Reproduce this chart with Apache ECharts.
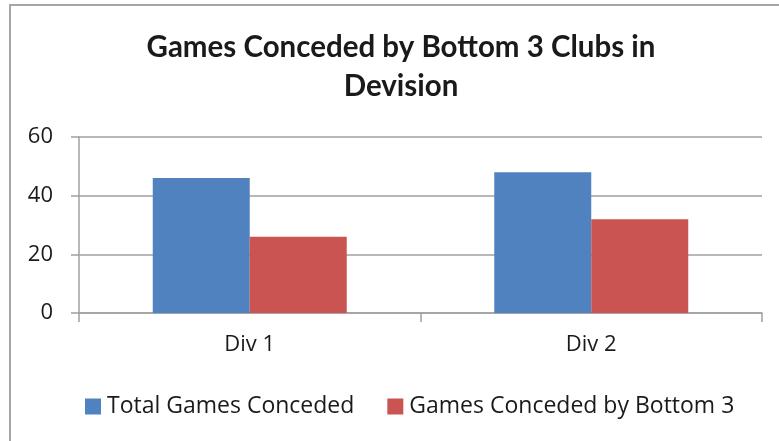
<!DOCTYPE html>
<html>
<head>
<meta charset="utf-8">
<script src="https://cdn.jsdelivr.net/npm/echarts@6/dist/echarts.min.js"></script>
<style>
html,body{margin:0;padding:0;background:#fff;}
#chart{width:779px;height:441px;}
</style>
</head>
<body>
<div id="chart"></div>
<script>
const categories = ['Div 1', 'Div 2'];
const totalConceded = [46, 48];
const bottom3Conceded = [26, 32];
const seriesNames = ['Total Games Conceded', 'Games Conceded by Bottom 3'];
const titleText = 'Games Conceded by Bottom 3 Clubs in\nDevision';

const TFONT = 'Lato';
const FONT = 'Open Sans';
const chart = echarts.init(document.getElementById('chart'), null, {renderer: 'canvas'});
chart.setOption({
  animation: false,
  color: ['#5082C0', '#CA5451'],
  graphic: [{
    type: 'rect',
    shape: {x: 10, y: 5, width: 820, height: 500},
    style: {fill: 'none', stroke: '#A6A6A6', lineWidth: 2},
    silent: true, z: -1
  }],
  title: {
    text: titleText,
    left: 396,
    textAlign: 'center',
    top: 23,
    textStyle: {fontFamily: TFONT, fontWeight: 'bold', fontSize: 29.5, lineHeight: 39, color: '#1a1a1a'}
  },
  legend: {
    left: 80,
    top: 390,
    itemWidth: 16,
    itemHeight: 16,
    itemGap: 33,
    icon: 'rect',
    textStyle: {fontFamily: FONT, fontSize: 23, color: '#1a1a1a', padding: [0, 0, 0, 1]},
    data: seriesNames
  },
  grid: {left: 79, right: 17, top: 137, bottom: 128, containLabel: false},
  xAxis: {
    type: 'category',
    data: categories,
    axisLine: {lineStyle: {color: '#A0A0A0', width: 1.5}},
    axisTick: {show: true, length: 9, interval: 0, lineStyle: {color: '#A0A0A0', width: 1.5}},
    axisLabel: {margin: 21, fontFamily: FONT, fontSize: 22, color: '#1a1a1a'}
  },
  yAxis: {
    type: 'value',
    min: 0, max: 60, interval: 20,
    axisLine: {show: true, lineStyle: {color: '#A0A0A0', width: 1.5}},
    axisTick: {show: true, length: 8, lineStyle: {color: '#A0A0A0', width: 1.5}},
    splitLine: {show: true, lineStyle: {color: '#A0A0A0', width: 1.5}},
    axisLabel: {margin: 26, fontFamily: FONT, fontSize: 22, color: '#1a1a1a'}
  },
  series: [
    {name: seriesNames[0], type: 'bar', data: totalConceded, barWidth: 97, barGap: '0%'},
    {name: seriesNames[1], type: 'bar', data: bottom3Conceded, barWidth: 97, barGap: '0%'}
  ]
});
</script>
</body>
</html>
